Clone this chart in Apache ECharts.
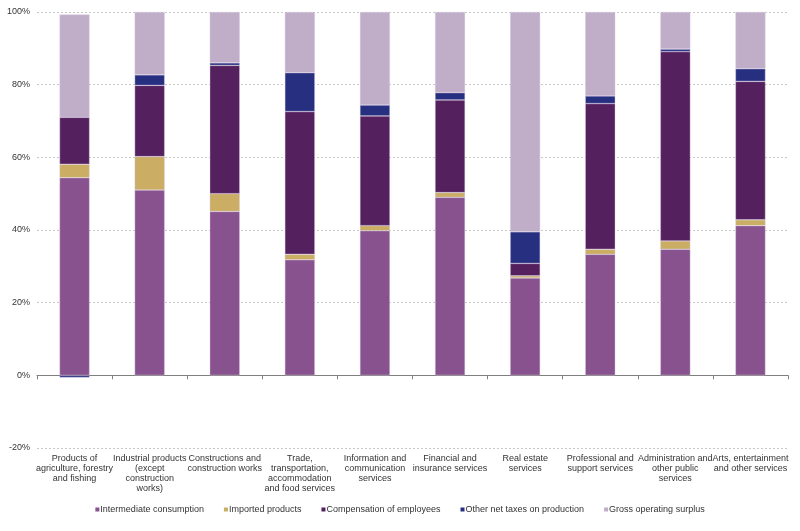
<!DOCTYPE html>
<html>
<head>
<meta charset="utf-8">
<script src="https://cdn.jsdelivr.net/npm/echarts@6/dist/echarts.min.js"></script>
<style>
html,body{margin:0;padding:0;background:#fff;}
#chart{width:800px;height:531px;}
</style>
</head>
<body>
<div id="chart"></div>
<script>
var categories = [
  "Products of\nagriculture, forestry\nand fishing",
  "Industrial products\n(except\nconstruction\nworks)",
  "Constructions and\nconstruction works",
  "Trade,\ntransportation,\naccommodation\nand food services",
  "Information and\ncommunication\nservices",
  "Financial and\ninsurance services",
  "Real estate\nservices",
  "Professional and\nsupport services",
  "Administration and\nother public\nservices",
  "Arts, entertainment\nand other services"
];
var seriesNames = ["Intermediate consumption","Imported products","Compensation of employees","Other net taxes on production","Gross operating surplus"];
var intermediate = [54.4, 51.0, 45.1, 31.8, 39.8, 49.0, 26.8, 33.3, 34.7, 41.2];
var imported     = [3.7, 9.2, 4.9, 1.5, 1.4, 1.3, 0.6, 1.4, 2.3, 1.6];
var compensation = [12.9, 19.6, 35.3, 39.3, 30.2, 25.5, 3.4, 40.1, 52.1, 38.1];
var otherTaxes   = [-0.6, 2.9, 0.7, 10.7, 3.0, 2.0, 8.7, 2.1, 0.7, 3.5];
var grossSurplus = [28.3, 17.3, 14.0, 16.7, 25.6, 22.2, 60.5, 23.1, 10.2, 15.6];
var yTicks = [-20, 0, 20, 40, 60, 80, 100];

var colors = ["#88528f", "#cbae63", "#54205e", "#272f80", "#c0aec8"];
var dataSets = [intermediate, imported, compensation, otherTaxes, grossSurplus];

var chart = echarts.init(document.getElementById('chart'), null, {renderer:'canvas'});
var font = "'Liberation Sans', Arial, sans-serif";
var series = seriesNames.map(function(n, i){
  return {
    name: n, type: 'bar', stack: 'total', xAxisIndex: 0,
    barWidth: 30,
    data: dataSets[i],
    itemStyle: {color: colors[i], borderColor: 'rgba(215,200,225,0.8)', borderWidth: 0.5},
    emphasis: {disabled: true}
  };
});
chart.setOption({
  animation: false,
  textStyle: {fontFamily: font},
  grid: {left: 37, right: 12, top: 12, bottom: 83, containLabel: false},
  legend: {
    data: seriesNames,
    bottom: 12,
    left: 'center',
    icon: 'rect',
    itemWidth: 4, itemHeight: 4, itemGap: 20,
    itemStyle: {borderWidth: 0},
    textStyle: {fontSize: 9, color: '#333', fontFamily: font, padding: [0,0,0,-4]}
  },
  xAxis: [{
    type: 'category', data: categories, position: 'bottom',
    axisLine: {show: false, onZero: false},
    axisTick: {show: false},
    axisLabel: {interval: 0, fontSize: 9, color: '#333', lineHeight: 10, margin: 6, fontFamily: font}
  },{
    type: 'category', data: categories, position: 'bottom',
    axisLine: {show: true, onZero: true, lineStyle: {color: '#7f7f7f', width: 1}},
    axisTick: {show: true, interval: 0, length: 4, inside: false, lineStyle: {color: '#7f7f7f'}},
    axisLabel: {show: false, interval: 0},
    splitLine: {show: false}
  }],
  yAxis: {
    type: 'value', min: yTicks[0], max: yTicks[yTicks.length-1], interval: 20,
    axisLine: {show: false}, axisTick: {show: false},
    axisLabel: {formatter: '{value}%', fontSize: 9, color: '#333', margin: 7, fontFamily: font},
    splitLine: {show: true, lineStyle: {color: '#c8c8c8', type: [2,2], width: 1}}
  },
  series: series
});
</script>
</body>
</html>
